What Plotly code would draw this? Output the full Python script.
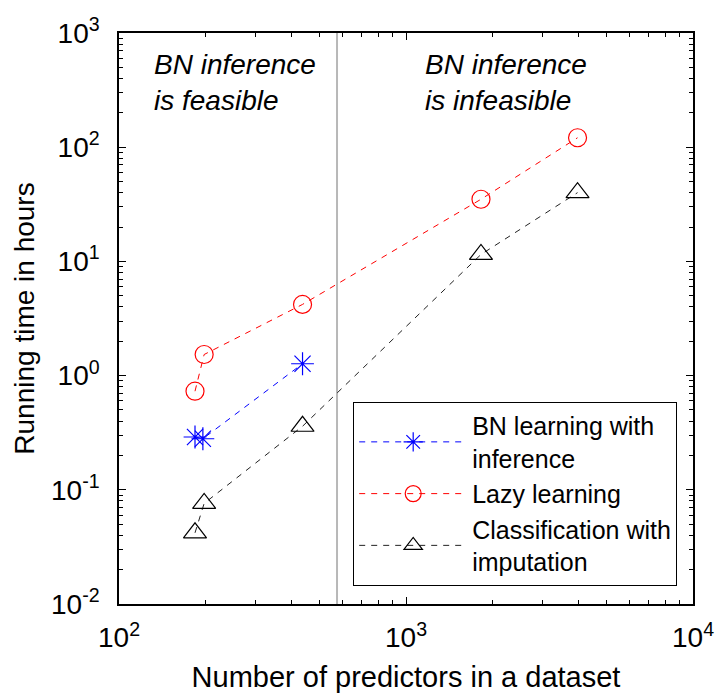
import plotly.graph_objects as go

# ---- data ----
x_all = [184, 198, 436, 1825, 3960]
lazy_hours = [0.73, 1.53, 4.2, 35, 121]
bn_x = [184, 196, 436]
bn_hours = [0.29, 0.28, 1.27]
cls_hours = [0.042, 0.076, 0.36, 11.5, 40]
boundary_x = 575

series_names = ["BN learning with<br>inference", "Lazy learning", "Classification with<br>imputation"]
x_major = [100, 1000, 10000]
x_major_text = ["10<sup>2</sup>", "10<sup>3</sup>", "10<sup>4</sup>"]
y_major = [0.01, 0.1, 1, 10, 100, 1000]
y_major_text = ["10<sup>-2</sup>", "10<sup>-1</sup>", "10<sup>0</sup>", "10<sup>1</sup>", "10<sup>2</sup>", "10<sup>3</sup>"]

FONT = "Liberation Sans, Arial, sans-serif"

def minor_vals(decades):
    out = []
    for d in decades:
        for k in range(2, 10):
            out.append(k * 10 ** d)
    return out

fig = go.Figure()

fig.add_trace(go.Scatter(
    x=[boundary_x, boundary_x], y=[y_major[0], y_major[-1]], mode="lines",
    line=dict(color="#b8b8b8", width=2), showlegend=False, hoverinfo="skip"))

fig.add_trace(go.Scatter(
    x=bn_x, y=bn_hours, mode="lines+markers", name=series_names[0],
    line=dict(color="#0000ff", width=1, dash="6px,6px"),
    marker=dict(symbol="asterisk-open", size=19, line=dict(color="#0000ff", width=1.2))))

fig.add_trace(go.Scatter(
    x=x_all, y=lazy_hours, mode="lines+markers", name=series_names[1],
    line=dict(color="#ff0000", width=1, dash="6px,6px"),
    marker=dict(symbol="circle-open", size=18, color="#ff0000", line=dict(color="#ff0000", width=1.2))))

fig.add_trace(go.Scatter(
    x=x_all, y=cls_hours, mode="lines+markers", name=series_names[2],
    line=dict(color="#222222", width=1, dash="6px,6px"),
    marker=dict(symbol="triangle-up-open", size=20, color="#000000", line=dict(color="#000000", width=1.2))))

axis_common = dict(
    type="log", showline=True, linecolor="black", linewidth=1.5, mirror="allticks",
    ticks="inside", ticklen=7, tickwidth=1, tickcolor="black", showgrid=False, zeroline=False,
    tickmode="array", tickfont=dict(family=FONT, size=28, color="black"),
)

fig.update_xaxes(**axis_common, range=[2, 4], tickvals=x_major, ticktext=x_major_text,
                 minor=dict(tickvals=minor_vals([2, 3]), ticks="inside", ticklen=4, tickcolor="black"),
                 ticklabelstandoff=8,
                 title=dict(text="Number of predictors in a dataset", font=dict(family=FONT, size=29, color="black"), standoff=14))
fig.update_yaxes(**axis_common, range=[-2, 3], tickvals=y_major, ticktext=y_major_text,
                 minor=dict(tickvals=minor_vals([-2, -1, 0, 1, 2]), ticks="inside", ticklen=4, tickcolor="black"),
                 ticklabelstandoff=12,
                 title=dict(text="Running time in hours", font=dict(family=FONT, size=28, color="black"), standoff=8))

fig.add_annotation(xref="paper", yref="paper", x=0.057, y=0.975, xanchor="left", yanchor="top", align="left",
                   text="<i>BN inference<br>is feasible</i>", showarrow=False,
                   font=dict(family=FONT, size=28, color="black"))
fig.add_annotation(xref="paper", yref="paper", x=0.530, y=0.975, xanchor="left", yanchor="top", align="left",
                   text="<i>BN inference<br>is infeasible</i>", showarrow=False,
                   font=dict(family=FONT, size=28, color="black"))

fig.update_layout(
    width=726, height=700,
    margin=dict(l=119, r=25, t=33, b=96),
    paper_bgcolor="white", plot_bgcolor="white",
    showlegend=True,
    legend=dict(x=0.408, y=0.354, xanchor="left", yanchor="top",
                bgcolor="white", bordercolor="black", borderwidth=1,
                font=dict(family=FONT, size=25, color="black"), itemwidth=108,
                tracegroupgap=3),
)

fig.write_html("out.html")
